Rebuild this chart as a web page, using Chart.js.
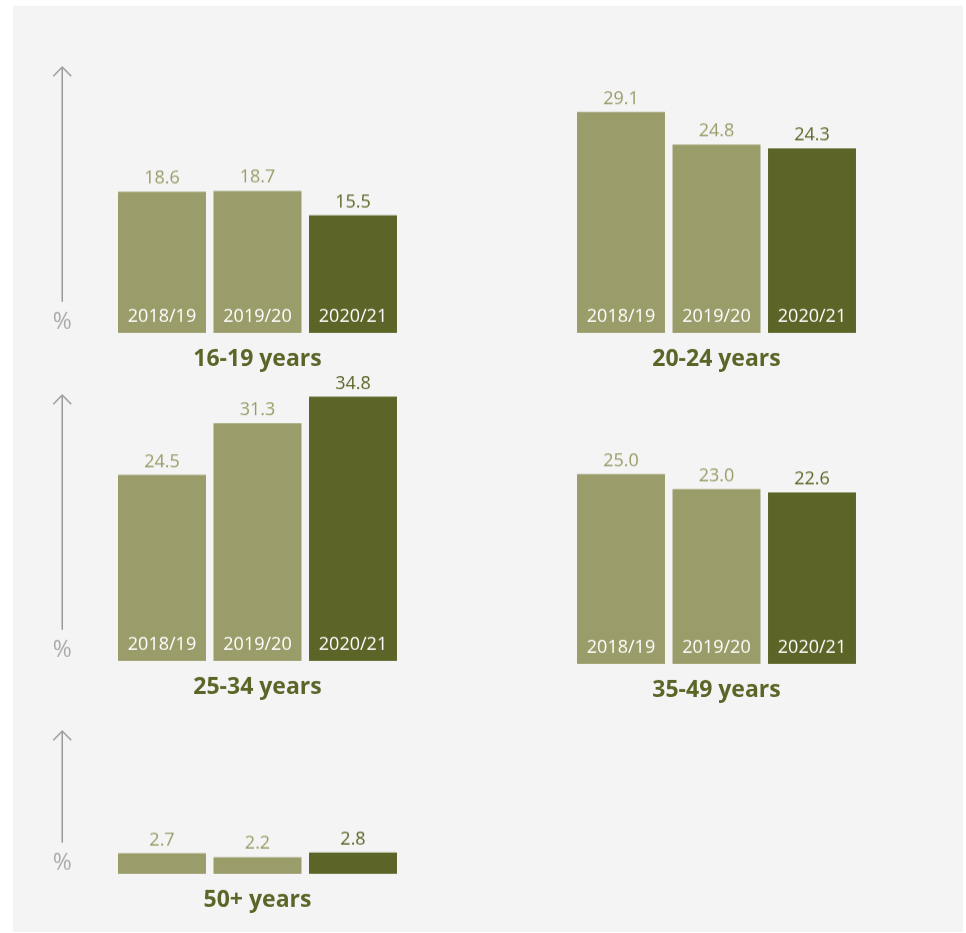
<!DOCTYPE html>
<html>
<head>
<meta charset="utf-8">
<script src="https://cdn.jsdelivr.net/npm/chart.js@4.4.1/dist/chart.umd.min.js"></script>
<style>
    body { margin: 0; background: #ffffff; }
    #panel { position: absolute; left: 13px; top: 6px; width: 950px; height: 926px; background: #f4f4f4; }
    canvas { position: absolute; }
</style>
</head>
<body>
<div id="panel"></div>
<canvas id="c1"></canvas>
<canvas id="c2"></canvas>
<canvas id="c3"></canvas>
<canvas id="c4"></canvas>
<canvas id="c5"></canvas>
<script>
const years = ['2018/19', '2019/20', '2020/21'];
const ageGroups = ['16-19 years', '20-24 years', '25-34 years', '35-49 years', '50+ years'];

const values16to19 = [18.6, 18.7, 15.5];
const values20to24 = [29.1, 24.8, 24.3];
const values25to34 = [24.5, 31.3, 34.8];
const values35to49 = [25.0, 23.0, 22.6];
const values50plus = [2.7, 2.2, 2.8];

const LIGHT = '#9a9c69';
const DARK = '#5c6527';
const PX_PER_UNIT = 7.59;
const FONT = '"Open Sans", sans-serif';

// draws value above each bar, year inside, group name under, arrow on the left
const labelsPlugin = {
    id: 'labels',
    afterDatasetsDraw(chart) {
        const ctx = chart.ctx;
        const area = chart.chartArea;
        const meta = chart.getDatasetMeta(0);
        const opts = chart.options.plugins.labels;
        ctx.save();
        ctx.textAlign = 'center';
        meta.data.forEach(function (bar, i) {
            let value = chart.data.datasets[0].data[i];
            ctx.font = '18px ' + FONT;
            ctx.fillStyle = i === 2 ? DARK : LIGHT;
            ctx.textBaseline = 'alphabetic';
            ctx.fillText(value.toFixed(1), bar.x, bar.y - 8);
            if (opts.showYears) {
                ctx.fillStyle = '#ffffff';
                ctx.fillText(chart.data.labels[i], bar.x, bar.base - 11);
            }
        });
        ctx.font = 'bold 23px ' + FONT;
        ctx.fillStyle = DARK;
        ctx.fillText(opts.title, (area.left + area.right) / 2, area.bottom + 33);

        if (opts.arrow) {
            let ax = area.left - 52;
            ctx.strokeStyle = '#9a9a9a';
            ctx.lineWidth = 1.5;
            ctx.beginPath();
            ctx.moveTo(ax, area.top);
            ctx.lineTo(ax, area.bottom - 31);
            ctx.moveTo(ax - 9, area.top + 9);
            ctx.lineTo(ax, area.top);
            ctx.lineTo(ax + 9, area.top + 9);
            ctx.stroke();
            ctx.font = '23px ' + FONT;
            ctx.fillStyle = '#aaaaaa';
            ctx.fillText('%', ax, area.bottom - 4);
        }
        ctx.restore();
    }
};

function loadGroupChart(id, values, title, left, bottom, max, arrow, showYears) {
    let canvas = document.getElementById(id);
    let height = max * PX_PER_UNIT + 40 + 50;
    canvas.style.left = left + 'px';
    canvas.style.top = (bottom - max * PX_PER_UNIT - 40) + 'px';
    canvas.style.width = '400px';
    canvas.style.height = height + 'px';
    canvas.width = 400;
    canvas.height = height;
    return new Chart(canvas.getContext('2d'), {
        type: 'bar',
        data: {
            labels: years,
            datasets: [{
                data: values,
                backgroundColor: [LIGHT, LIGHT, DARK],
                borderWidth: 0,
                barPercentage: 0.921,
                categoryPercentage: 1
            }]
        },
        options: {
            responsive: false,
            animation: false,
            layout: { padding: { left: 84.25, right: 29.25, top: 40, bottom: 50 } },
            scales: {
                x: { display: false },
                y: { display: false, min: 0, max: max }
            },
            plugins: {
                legend: { display: false },
                tooltip: { enabled: false },
                labels: { title: title, arrow: arrow, showYears: showYears }
            }
        },
        plugins: [labelsPlugin]
    });
}

loadGroupChart('c1', values16to19, ageGroups[0], 30, 333, 35, true, true);
loadGroupChart('c2', values20to24, ageGroups[1], 489, 333, 35, false, true);
loadGroupChart('c3', values25to34, ageGroups[2], 30, 661, 35, true, true);
loadGroupChart('c4', values35to49, ageGroups[3], 489, 664, 35, false, true);
loadGroupChart('c5', values50plus, ageGroups[4], 30, 874, 18.8, true, false);
</script>
</body>
</html>
